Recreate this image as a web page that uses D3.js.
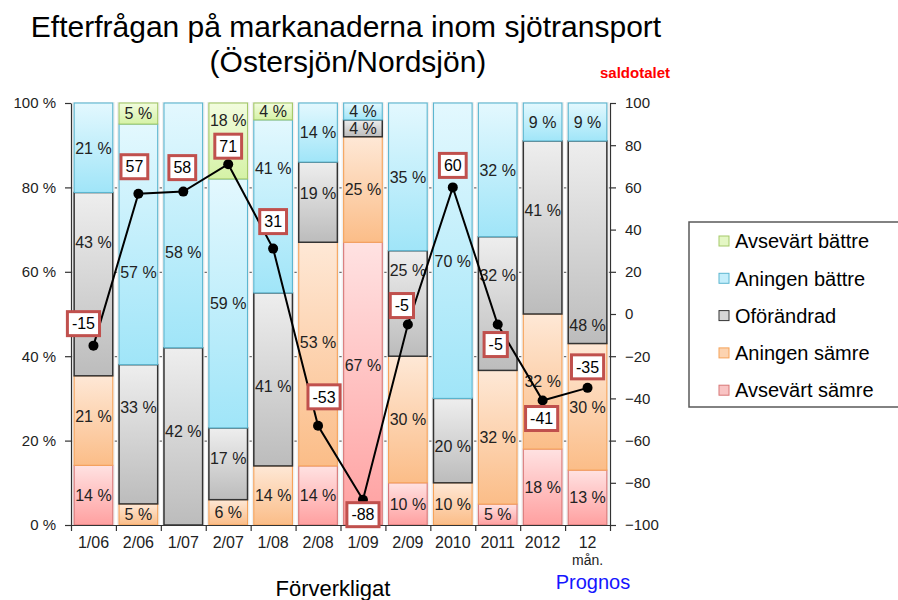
<!DOCTYPE html>
<html>
<head>
<meta charset="utf-8">
<script src="https://cdn.jsdelivr.net/npm/d3@7"></script>
<style>
  body { margin: 0; background: #fff; }
  svg { font-family: "Liberation Sans", Arial, sans-serif; }
</style>
</head>
<body>
<div id="chart"></div>
<script>
// --- data ---
const categories = ["1/06", "2/06", "1/07", "2/07", "1/08", "2/08", "1/09", "2/09", "2010", "2011", "2012", "12 mån."];
const seriesNames = ["Avsevärt sämre", "Aningen sämre", "Oförändrad", "Aningen bättre", "Avsevärt bättre"];
const avsevartSamre  = [14, 0, 0, 0, 0, 14, 67, 10, 0, 5, 18, 13];
const aningenSamre   = [21, 5, 0, 6, 14, 53, 25, 30, 10, 32, 32, 30];
const oforandrad     = [43, 33, 42, 17, 41, 19, 4, 25, 20, 32, 41, 48];
const aningenBattre  = [21, 57, 58, 59, 41, 14, 4, 35, 70, 32, 9, 9];
const avsevartBattre = [0, 5, 0, 18, 4, 0, 0, 0, 0, 0, 0, 0];
const saldotalet     = [-15, 57, 58, 71, 31, -53, -88, -5, 60, -5, -41, -35];
const leftTicks  = [0, 20, 40, 60, 80, 100];
const rightTicks = [-100, -80, -60, -40, -20, 0, 20, 40, 60, 80, 100];

// segment labels that were moved by hand in the original (series, category, % height)
const labelMoves = [
  ["Oförändrad", "1/06", 67.1], ["Aningen sämre", "1/06", 25.8],
  ["Oförändrad", "2/06", 27.9], ["Aningen bättre", "2/06", 60.0],
  ["Aningen bättre", "1/07", 64.6], ["Oförändrad", "1/07", 22.1],
  ["Avsevärt bättre", "2/07", 96.0], ["Oförändrad", "2/07", 15.8],
  ["Aningen bättre", "1/08", 84.5], ["Oförändrad", "1/08", 32.9],
  ["Aningen sämre", "2/08", 43.4], ["Oförändrad", "2/08", 78.6],
  ["Avsevärt sämre", "1/09", 37.9], ["Oförändrad", "2/09", 60.4],
  ["Oförändrad", "2010", 18.7], ["Aningen bättre", "2010", 62.4],
  ["Oförändrad", "2011", 59.2], ["Oförändrad", "2012", 74.6],
  ["Oförändrad", "12 mån.", 47.4]
];
// saldo label box shift from its point, px
const saldoShift = [[-10, -22], [-4, -27], [-1, -24], [0, -18], [0, -27], [6, -29],
                    [0, 15], [-6, -19], [0, -22], [-2, 20], [-1, 18], [0, -21]];

const seriesValues = [avsevartSamre, aningenSamre, oforandrad, aningenBattre, avsevartBattre];
const seriesStyle = [
  { top: "#ffe2e2", bottom: "#ffa0a0", stroke: "#d87777", swatch: "#f9c4c4" },
  { top: "#fee8d6", bottom: "#fbbd88", stroke: "#f6a35a", swatch: "#fcd3b0" },
  { top: "#eeeeee", bottom: "#bcbcbc", stroke: "#333333", swatch: "#d6d6d6" },
  { top: "#e3f8fe", bottom: "#a0e5f8", stroke: "#5cb6d0", swatch: "#c4eefb" },
  { top: "#f2fcde", bottom: "#d5f2a6", stroke: "#a5c96a", swatch: "#e4f7c4" }
];

const W = 898, H = 600;
const x0 = 71, x1 = 610, yTop = 103, yBot = 525;

const rows = categories.map((c, i) => {
  const r = { cat: c };
  seriesNames.forEach((s, k) => r[s] = seriesValues[k][i]);
  return r;
});
const layers = d3.stack().keys(seriesNames).offset(d3.stackOffsetExpand)(rows);

const svg = d3.select("#chart").append("svg")
  .attr("width", W)
  .attr("height", H);

const x = d3.scaleBand().domain(categories).range([x0, x1]).paddingInner(0.14).paddingOuter(0.07);
const yShare = d3.scaleLinear().domain([0, 1]).range([yBot, yTop]);
const yPct = d3.scaleLinear().domain([0, 100]).range([yBot, yTop]);
const ySaldo = d3.scaleLinear().domain([-100, 100]).range([yBot, yTop]);
const xEdge = d3.scaleLinear().domain([0, categories.length]).range([x0, x1]);

// gradients
const defs = svg.append("defs");
seriesStyle.forEach((st, k) => {
  const g = defs.append("linearGradient").attr("id", "grad" + k)
    .attr("x1", 0).attr("y1", 0).attr("x2", 0).attr("y2", 1);
  g.append("stop").attr("offset", 0).attr("stop-color", st.top);
  g.append("stop").attr("offset", 1).attr("stop-color", st.bottom);
});

// gridlines behind bars
svg.append("g")
  .attr("transform", `translate(${x0},0)`)
  .call(d3.axisLeft(yPct).tickValues([20, 40, 60, 80]).tickSize(-(x1 - x0)).tickFormat(""))
  .call(g => g.select(".domain").remove())
  .selectAll("line").attr("stroke", "#4a4a4a");

// bar shadows
svg.append("g").selectAll("rect")
  .data(categories)
  .join("rect")
  .attr("x", d => x(d) - 2)
  .attr("y", yTop - 1)
  .attr("width", x.bandwidth() + 4)
  .attr("height", yBot - yTop + 1)
  .attr("fill", "#efefef");

// stacked segments
layers.forEach((layer, k) => {
  svg.append("g").selectAll("rect")
    .data(layer.filter(d => d[1] - d[0] > 0))
    .join("rect")
    .attr("x", d => x(d.data.cat))
    .attr("y", d => yShare(d[1]))
    .attr("width", x.bandwidth())
    .attr("height", d => yShare(d[0]) - yShare(d[1]))
    .attr("fill", `url(#grad${k})`)
    .attr("stroke", seriesStyle[k].stroke)
    .attr("stroke-width", k === 2 ? 1.5 : 1.1);
});

// segment labels
layers.forEach((layer, k) => {
  svg.append("g").selectAll("text")
    .data(layer.filter(d => d.data[layer.key] > 0))
    .join("text")
    .attr("x", d => x(d.data.cat) + x.bandwidth() / 2)
    .attr("y", d => {
      const mv = labelMoves.find(m => m[0] === layer.key && m[1] === d.data.cat);
      return mv ? yPct(mv[2]) : yShare((d[0] + d[1]) / 2);
    })
    .attr("dy", "0.36em")
    .attr("text-anchor", "middle")
    .style("font-size", "16px")
    .style("fill", "#222")
    .text(d => d.data[layer.key] + " %");
});

// axes
const leftAxis = svg.append("g")
  .attr("transform", `translate(${x0},0)`)
  .call(d3.axisLeft(yPct).tickValues(leftTicks).tickFormat(d => d + " %").tickSize(6).tickSizeOuter(0).tickPadding(9));
const rightAxis = svg.append("g")
  .attr("transform", `translate(${x1},0)`)
  .call(d3.axisRight(ySaldo).tickValues(rightTicks).tickSize(6).tickSizeOuter(0).tickPadding(9));
const edgeAxis = svg.append("g")
  .attr("transform", `translate(0,${yBot})`)
  .call(d3.axisBottom(xEdge).tickValues(d3.range(categories.length + 1)).tickFormat("").tickSize(6).tickSizeOuter(0));
[leftAxis, rightAxis, edgeAxis].forEach(g => {
  g.selectAll("path, line").attr("stroke", "#333").attr("stroke-width", 1.2);
  g.selectAll("text").style("font-size", "15px").style("fill", "#222");
});

const catAxis = svg.append("g")
  .attr("transform", `translate(0,${yBot})`)
  .call(d3.axisBottom(x).tickSize(0).tickPadding(12));
catAxis.select(".domain").remove();
catAxis.selectAll("text")
  .style("font-size", "16px")
  .style("fill", "#222")
  .each(function(d) {
    const parts = d.split(" ");
    if (parts.length > 1) {
      const t = d3.select(this).text(parts[0]);
      t.append("tspan").attr("x", 0).attr("dy", "1.2em").style("font-size", "14px").text(parts[1]);
    }
  });

// saldo line
const cx = (d, i) => x(categories[i]) + x.bandwidth() / 2;
svg.append("path")
  .datum(saldotalet)
  .attr("fill", "none")
  .attr("stroke", "#000")
  .attr("stroke-width", 2)
  .attr("d", d3.line().x(cx).y(d => ySaldo(d)));

svg.append("g").selectAll("circle")
  .data(saldotalet)
  .join("circle")
  .attr("cx", cx)
  .attr("cy", d => ySaldo(d))
  .attr("r", 5)
  .attr("fill", "#000");

const boxes = svg.append("g").selectAll("g")
  .data(saldotalet)
  .join("g")
  .attr("transform", (d, i) => `translate(${cx(d, i) + saldoShift[i][0]},${ySaldo(d) + saldoShift[i][1]})`);
boxes.append("text")
  .attr("text-anchor", "middle")
  .attr("dy", "0.36em")
  .style("font-size", "16px")
  .style("fill", "#000")
  .text(d => d);
boxes.each(function() {
  const g = d3.select(this);
  const tw = g.select("text").node().getComputedTextLength();
  g.insert("rect", "text")
    .attr("x", -(tw + 9) / 2)
    .attr("y", -12)
    .attr("width", tw + 9)
    .attr("height", 24)
    .attr("fill", "#fff")
    .attr("stroke", "#c0504d")
    .attr("stroke-width", 3);
});

// titles
svg.append("text")
  .attr("x", 346).attr("y", 37)
  .attr("text-anchor", "middle")
  .style("font-size", "30px")
  .text("Efterfrågan på markanaderna inom sjötransport");
svg.append("text")
  .attr("x", 348).attr("y", 72)
  .attr("text-anchor", "middle")
  .style("font-size", "30px")
  .text("(Östersjön/Nordsjön)");
svg.append("text")
  .attr("x", 635).attr("y", 78)
  .attr("text-anchor", "middle")
  .style("font-size", "15px")
  .style("font-weight", "bold")
  .style("fill", "#ff0000")
  .text("saldotalet");
svg.append("text")
  .attr("x", 333).attr("y", 596)
  .attr("text-anchor", "middle")
  .style("font-size", "22px")
  .text("Förverkligat");
svg.append("text")
  .attr("x", 593).attr("y", 589)
  .attr("text-anchor", "middle")
  .style("font-size", "20px")
  .style("fill", "#1515ff")
  .text("Prognos");

// legend
const legend = svg.append("g");
legend.append("rect")
  .attr("x", 689).attr("y", 222)
  .attr("width", 220).attr("height", 185)
  .attr("fill", "#fff")
  .attr("stroke", "#595959")
  .attr("stroke-width", 1.5);
const legendOrder = d3.range(seriesNames.length).reverse();
const items = legend.selectAll(".legend-item")
  .data(legendOrder)
  .join("g")
  .attr("class", "legend-item")
  .attr("transform", (k, i) => `translate(724,${241 + i * 37.3})`);
items.append("rect")
  .attr("x", -5).attr("y", -5)
  .attr("width", 10).attr("height", 10)
  .attr("fill", k => seriesStyle[k].swatch)
  .attr("stroke", k => seriesStyle[k].stroke)
  .attr("stroke-width", 1);
items.append("text")
  .attr("x", 11)
  .attr("dy", "0.36em")
  .style("font-size", "20px")
  .style("fill", "#000")
  .text(k => seriesNames[k]);
</script>
</body>
</html>
